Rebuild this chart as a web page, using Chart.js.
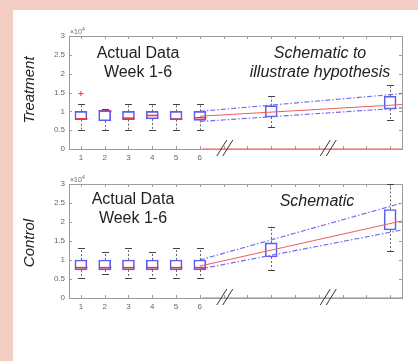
<!DOCTYPE html>
<html>
<head>
<meta charset="utf-8">
<script src="https://cdn.jsdelivr.net/npm/chart.js@4.4.1/dist/chart.umd.min.js"></script>
<style>
body { margin: 0; background: #fff; }
#wrap { position: relative; width: 418px; height: 361px; background: #fff; overflow: hidden; }
.pink { position: absolute; background: #f2cdc3; }
canvas { position: absolute; left: 0; }
</style>
</head>
<body>
<div id="wrap">
  <div class="pink" style="left:0;top:0;width:418px;height:10px"></div>
  <div class="pink" style="left:0;top:0;width:13px;height:361px"></div>
  <canvas id="trt" width="418" height="175" style="top:0"></canvas>
  <canvas id="ctl" width="418" height="186" style="top:175px"></canvas>
</div>
<script>
// x positions: measured weeks and the two schematic points
const weeks = [1, 2, 3, 4, 5, 6];
const schemWeeks = [9, 14];
const xTickVals = [1, 2, 3, 4, 5, 6, 7, 8, 9, 10, 11, 12, 13, 14];
const weekLabels = ['1', '2', '3', '4', '5', '6'];
const yTickVals = [0, 0.5, 1, 1.5, 2, 2.5, 3];   // x10^4

// Treatment, week 1-6 (x10^4)
const trtLo  = [0.50, 0.50, 0.50, 0.50, 0.50, 0.50];
const trtQ1  = [0.78, 0.75, 0.78, 0.80, 0.78, 0.76];
const trtMed = [0.80, 1.00, 0.82, 0.89, 0.79, 0.83];
const trtQ3  = [1.00, 1.03, 1.00, 1.00, 1.00, 1.00];
const trtHi  = [1.20, 1.06, 1.20, 1.20, 1.20, 1.20];
const trtOutX = [1];
const trtOutY = [1.47];
// Treatment, schematic
const trtSchLo = [0.58, 0.76];
const trtSchQ1 = [0.85, 1.06];
const trtSchQ3 = [1.15, 1.40];
const trtSchHi = [1.40, 1.69];

// Control, week 1-6
const ctlLo  = [0.52, 0.62, 0.52, 0.52, 0.52, 0.52];
const ctlQ1  = [0.74, 0.74, 0.74, 0.74, 0.74, 0.74];
const ctlMed = [0.80, 0.80, 0.80, 0.80, 0.80, 0.80];
const ctlQ3  = [1.00, 1.00, 1.00, 1.00, 1.00, 1.00];
const ctlHi  = [1.31, 1.20, 1.31, 1.20, 1.31, 1.31];
// Control, schematic
const ctlSchLo = [0.75, 1.23];
const ctlSchQ1 = [1.08, 1.79];
const ctlSchQ3 = [1.45, 2.33];
const ctlSchHi = [1.88, 3.00];

// trend lines from week 6 to the end of the axis
const trendX = [6, 14.5];
const trtMean  = [0.87, 1.18];
const trtUpper = [1.00, 1.47];
const trtLower = [0.73, 1.09];
const ctlMean  = [0.84, 2.03];
const ctlUpper = [1.00, 2.50];
const ctlLower = [0.76, 1.79];
const baseX = [6.1, 14.5];
const baseY = [0, 0];
const breakX = [7.05, 11.4];

const BLUE = '#5c5cf2';
const BLUE_D = '#6f6ff5';
const RED = '#f25a5a';

function pts(xs, ys) { return xs.map((x, i) => ({x: x, y: ys[i]})); }
function boxBars(xs, q1, q3) { return xs.map((x, i) => ({x: x, y: [q1[i], q3[i]]})); }
function boxList(xs, lo, q1, q3, hi, med) {
  return xs.map((x, i) => ({x: x, lo: lo[i], q1: q1[i], q3: q3[i], hi: hi[i], med: med ? med[i] : null}));
}

function makeExtras(spec) {
  return {
    id: 'extras',
    beforeDatasetsDraw(chart) {
      const ctx = chart.ctx, a = chart.chartArea, x = chart.scales.x, y = chart.scales.y;
      ctx.save();
      ctx.strokeStyle = '#9c9c9c';
      ctx.lineWidth = 1;
      ctx.strokeRect(Math.round(a.left) + 0.5, Math.round(a.top) + 0.5, Math.round(a.right - a.left), Math.round(a.bottom - a.top));
      ctx.beginPath();
      x.ticks.forEach(t => {
        const p = Math.round(x.getPixelForValue(t.value)) + 0.5;
        ctx.moveTo(p, a.bottom); ctx.lineTo(p, a.bottom - 3);
        ctx.moveTo(p, a.top); ctx.lineTo(p, a.top + 3);
      });
      y.ticks.forEach(t => {
        const p = Math.round(y.getPixelForValue(t.value)) + 0.5;
        ctx.moveTo(a.left, p); ctx.lineTo(a.left + 3, p);
        ctx.moveTo(a.right, p); ctx.lineTo(a.right - 3, p);
      });
      ctx.stroke();
      ctx.restore();
    },
    afterDatasetsDraw(chart) {
      const ctx = chart.ctx, a = chart.chartArea, x = chart.scales.x, y = chart.scales.y;
      ctx.save();
      ctx.lineWidth = 1;
      spec.boxes.forEach(b => {
        const c = Math.round(x.getPixelForValue(b.x)) + 0.5;
        // whiskers
        ctx.strokeStyle = '#666';
        ctx.setLineDash([2, 2]);
        ctx.beginPath();
        ctx.moveTo(c, y.getPixelForValue(b.q3)); ctx.lineTo(c, y.getPixelForValue(b.hi));
        ctx.moveTo(c, y.getPixelForValue(b.q1)); ctx.lineTo(c, y.getPixelForValue(b.lo));
        ctx.stroke();
        ctx.setLineDash([]);
        ctx.strokeStyle = '#444';
        ctx.beginPath();
        [b.hi, b.lo].forEach(v => {
          const p = Math.round(y.getPixelForValue(v)) + 0.5;
          ctx.moveTo(c - 3.5, p); ctx.lineTo(c + 3.5, p);
        });
        ctx.stroke();
        if (b.med !== null) {
          ctx.strokeStyle = '#ff3030';
          ctx.lineWidth = 1.5;
          ctx.beginPath();
          const p = y.getPixelForValue(b.med);
          ctx.moveTo(c - 6, p); ctx.lineTo(c + 6, p);
          ctx.stroke();
          ctx.lineWidth = 1;
        }
      });
      // outliers
      ctx.strokeStyle = '#ff3030';
      (spec.outX || []).forEach((ox, i) => {
        const px = x.getPixelForValue(ox), py = y.getPixelForValue(spec.outY[i]);
        ctx.beginPath();
        ctx.moveTo(px - 2.5, py); ctx.lineTo(px + 2.5, py);
        ctx.moveTo(px, py - 2.5); ctx.lineTo(px, py + 2.5);
        ctx.stroke();
      });
      // axis break marks
      ctx.strokeStyle = '#333';
      breakX.forEach(bx => {
        const px = x.getPixelForValue(bx), py = a.bottom;
        ctx.beginPath();
        [-3, 3].forEach(o => {
          ctx.moveTo(px + o - 5, py + 7); ctx.lineTo(px + o + 5, py - 9);
        });
        ctx.stroke();
      });
      // x10^4 exponent label
      ctx.fillStyle = '#666';
      ctx.textBaseline = 'alphabetic';
      ctx.textAlign = 'left';
      ctx.font = '7px "Liberation Sans", Arial, sans-serif';
      ctx.fillText('\u00d710', a.left + 1, a.top - 2);
      ctx.font = '5px "Liberation Sans", Arial, sans-serif';
      ctx.fillText('4', a.left + 13, a.top - 5);
      // annotation texts
      ctx.fillStyle = '#222';
      ctx.textAlign = 'center';
      spec.texts.forEach(t => {
        ctx.font = (t.italic ? 'italic ' : '') + '16px "Liberation Sans", Arial, sans-serif';
        ctx.fillText(t.s, t.x, t.y);
      });
      // panel label
      ctx.save();
      ctx.translate(spec.sideX, spec.sideY);
      ctx.rotate(-Math.PI / 2);
      ctx.font = 'italic 15px "Liberation Sans", Arial, sans-serif';
      ctx.textBaseline = 'middle';
      ctx.fillText(spec.side, 0, 0);
      ctx.restore();
      ctx.restore();
    }
  };
}

function makePanel(id, bars, mean, upper, lower, padding, spec) {
  const dashed = {type: 'line', borderColor: BLUE_D, borderWidth: 1.2, borderDash: [5, 2, 1.5, 2], pointRadius: 0};
  return new Chart(document.getElementById(id), {
    type: 'bar',
    data: {
      datasets: [
        {type: 'line', data: pts(trendX, mean), borderColor: RED, borderWidth: 1, pointRadius: 0},
        Object.assign({data: pts(trendX, upper)}, dashed),
        Object.assign({data: pts(trendX, lower)}, dashed),
        {type: 'line', data: pts(baseX, baseY), borderColor: RED, borderWidth: 1, pointRadius: 0},
        {data: bars, barThickness: 12, borderColor: BLUE, borderWidth: 1, borderSkipped: false,
         backgroundColor: 'rgba(255,255,255,0)'}
      ]
    },
    options: {
      responsive: false,
      animation: false,
      layout: {padding: padding},
      plugins: {legend: {display: false}, tooltip: {enabled: false}},
      scales: {
        x: {
          type: 'linear', min: 0.5, max: 14.5, offset: false,
          afterBuildTicks: s => { s.ticks = xTickVals.map(v => ({value: v})); },
          afterFit: s => { s.height = 16; },
          grid: {display: false, drawTicks: false, tickLength: 0}, border: {display: false},
          ticks: {
            autoSkip: false, maxRotation: 0, padding: 4, color: '#666',
            font: {size: 8, family: '"Liberation Sans", Arial, sans-serif'},
            callback: v => { const i = weeks.indexOf(v); return i >= 0 ? weekLabels[i] : ''; }
          }
        },
        y: {
          min: 0, max: 3,
          afterBuildTicks: s => { s.ticks = yTickVals.map(v => ({value: v})); },
          afterFit: s => { s.width = 30; },
          grid: {display: false, drawTicks: false, tickLength: 0}, border: {display: false},
          ticks: {padding: 4, color: '#666', font: {size: 8, family: '"Liberation Sans", Arial, sans-serif'},
                  callback: v => String(v)}
        }
      }
    },
    plugins: [makeExtras(spec)]
  });
}

makePanel('trt',
  boxBars(weeks, trtQ1, trtQ3).concat(boxBars(schemWeeks, trtSchQ1, trtSchQ3)),
  trtMean, trtUpper, trtLower,
  {left: 39, right: 16, top: 36, bottom: 10},
  {
    boxes: boxList(weeks, trtLo, trtQ1, trtQ3, trtHi, trtMed).concat(boxList(schemWeeks, trtSchLo, trtSchQ1, trtSchQ3, trtSchHi, null)),
    outX: trtOutX, outY: trtOutY,
    texts: [
      {s: 'Actual Data', x: 138, y: 58},
      {s: 'Week 1-6', x: 138, y: 77},
      {s: 'Schematic to', x: 320, y: 58, italic: true},
      {s: 'illustrate hypothesis', x: 320, y: 77, italic: true}
    ],
    side: 'Treatment', sideX: 30, sideY: 90
  });

makePanel('ctl',
  boxBars(weeks, ctlQ1, ctlQ3).concat(boxBars(schemWeeks, ctlSchQ1, ctlSchQ3)),
  ctlMean, ctlUpper, ctlLower,
  {left: 39, right: 16, top: 9, bottom: 47},
  {
    boxes: boxList(weeks, ctlLo, ctlQ1, ctlQ3, ctlHi, ctlMed).concat(boxList(schemWeeks, ctlSchLo, ctlSchQ1, ctlSchQ3, ctlSchHi, null)),
    texts: [
      {s: 'Actual Data', x: 133, y: 29},
      {s: 'Week 1-6', x: 133, y: 48},
      {s: 'Schematic', x: 317, y: 31, italic: true}
    ],
    side: 'Control', sideX: 30, sideY: 68
  });
</script>
</body>
</html>
